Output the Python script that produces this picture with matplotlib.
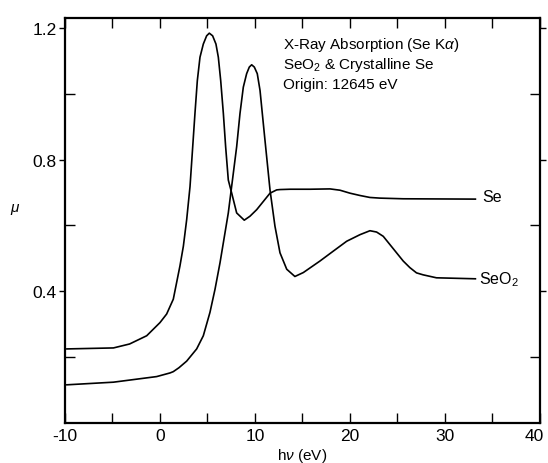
import matplotlib
matplotlib.use("Agg")
import matplotlib.pyplot as plt
from matplotlib.ticker import MultipleLocator, FixedLocator
from matplotlib.transforms import ScaledTranslation

plt.rcParams['font.family'] = ['Liberation Sans', 'DejaVu Sans']
plt.rcParams['mathtext.fontset'] = 'custom'
plt.rcParams['mathtext.rm'] = 'Liberation Sans'
plt.rcParams['mathtext.it'] = 'Liberation Sans:italic'

# photon energy (eV, relative to 12645 eV) and absorption
se_x = [-9.8, -4.9, -3.2, -1.4, 0.0, 0.7, 1.4, 2.1, 2.46, 2.81, 3.16, 3.68,
        3.93, 4.21, 4.56, 4.91, 5.19, 5.54, 5.89, 6.14, 6.39, 6.67, 6.91,
        7.19, 7.55, 8.07, 8.87, 9.47, 10.18, 10.88, 11.58, 12.28, 12.63,
        13.7, 15.8, 17.9, 18.95, 20.0, 21.05, 22.1, 23.16, 25.6, 33.2]
se_y = [0.225, 0.228, 0.240, 0.265, 0.305, 0.331, 0.376, 0.477, 0.537,
        0.618, 0.718, 0.940, 1.040, 1.111, 1.151, 1.176, 1.184, 1.176, 1.151,
        1.111, 1.040, 0.940, 0.839, 0.738, 0.698, 0.638, 0.616, 0.628, 0.648,
        0.673, 0.698, 0.708, 0.709, 0.710, 0.710, 0.711, 0.707, 0.698, 0.691,
        0.685, 0.683, 0.681, 0.680]

seo2_x = [-9.8, -4.9, -0.35, 1.05, 1.4, 2.0, 2.81, 3.86, 4.56, 5.26, 5.79,
          6.32, 7.19, 8.07, 8.42, 8.77, 9.12, 9.40, 9.65, 9.93, 10.24, 10.53,
          10.77, 11.05, 11.58, 12.1, 12.63, 13.34, 14.2, 15.09, 16.84, 18.24,
          19.65, 21.05, 22.1, 22.8, 23.5, 24.2, 24.9, 25.6, 26.3, 27.0, 27.7,
          29.1, 33.2]
seo2_y = [0.116, 0.124, 0.141, 0.152, 0.156, 0.168, 0.188, 0.225, 0.265,
          0.336, 0.406, 0.487, 0.638, 0.839, 0.940, 1.020, 1.061, 1.081, 1.088,
          1.081, 1.061, 1.010, 0.940, 0.859, 0.708, 0.598, 0.517, 0.467, 0.445,
          0.457, 0.492, 0.522, 0.552, 0.572, 0.584, 0.580, 0.567, 0.542, 0.517,
          0.492, 0.472, 0.456, 0.450, 0.441, 0.438]

fig = plt.figure(figsize=(5.48, 4.64), dpi=100)
ax = fig.add_axes([0.1186, 0.0862, 0.8668, 0.8728])

ax.plot(se_x, se_y, color='black', lw=1.2)
ax.plot(seo2_x, seo2_y, color='black', lw=1.2)

ax.text(33.9, 0.688, 'Se', fontsize=11.5, va='center', ha='left')
ax.text(33.6, 0.438, 'SeO$_2$', fontsize=11.5, va='center', ha='left')

ax.text(13.0, 1.152, 'X-Ray Absorption (Se K$\\alpha$)', fontsize=11, va='center')
ax.text(13.0, 1.091, 'SeO$_2$ & Crystalline Se', fontsize=11, va='center')
ax.text(13.0, 1.031, 'Origin: 12645 eV', fontsize=11, va='center')

ax.set_xlim(-10, 40)
ax.set_ylim(0, 1.23)
ax.xaxis.set_major_locator(FixedLocator([-10, 0, 10, 20, 30, 40]))
ax.xaxis.set_minor_locator(MultipleLocator(5))
ax.set_xticklabels(['-10', '0', '10', '20', '30', '40'])
ax.yaxis.set_major_locator(FixedLocator([0.4, 0.8, 1.2]))
ax.yaxis.set_minor_locator(FixedLocator([0.2, 0.6, 1.0]))
ax.set_yticklabels(['0.4', '0.8', '1.2'])

ax.tick_params(which='both', direction='in', top=True, right=True,
               labelsize=12.5, width=1.0)
ax.tick_params(which='major', length=7)
ax.tick_params(which='minor', length=7)
ax.tick_params(axis='y', which='major', direction='out', length=4, pad=2)

# last x label sits against the right edge in the original
last = ax.get_xticklabels()[-1]
last.set_transform(last.get_transform() + ScaledTranslation(-4 / 72, 0, fig.dpi_scale_trans))

for s in ax.spines.values():
    s.set_linewidth(1.6)

ax.set_xlabel('h$\\nu$ (eV)', fontsize=11, labelpad=2)
fig.text(15 / 548, 1 - 210 / 464, '$\\mu$', fontsize=11, ha='center', va='center')

fig.savefig('out.png', dpi=100)
